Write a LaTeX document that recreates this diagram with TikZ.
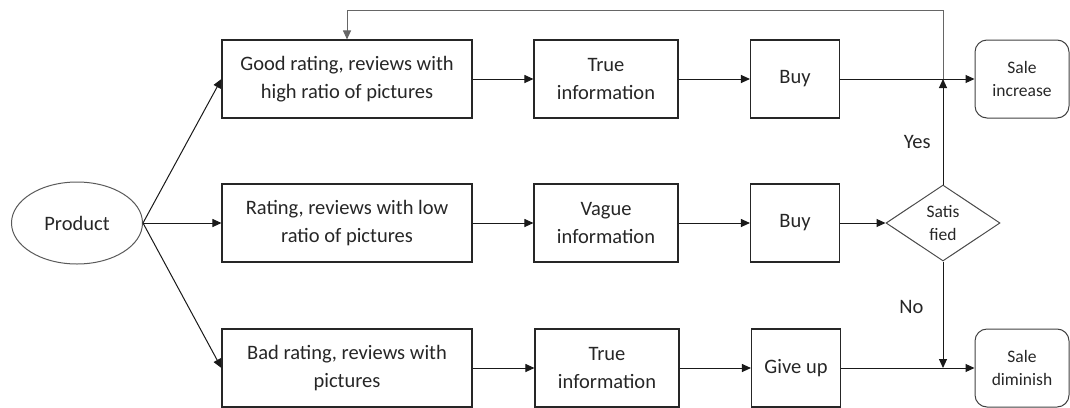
\documentclass[tikz,border=0pt]{standalone}
\usepackage{fontspec}
\setmainfont{Carlito}
\usetikzlibrary{arrows.meta,shapes.geometric}

\begin{document}
\begin{tikzpicture}[x=1pt, y=-1pt, >={Triangle[length=9pt,width=8pt]}, line width=1pt,
    every node/.style={font=\fontsize{20.5}{28}\selectfont, text=black!85, align=center, inner sep=0pt},
    box/.style={draw=black!85, line width=1.1pt, minimum width=250pt, minimum height=78pt},
    info/.style={box, minimum width=144pt},
    act/.style={box, minimum width=89pt},
    ell/.style={draw=black!65, ellipse, minimum width=131pt, minimum height=82pt},
    dec/.style={draw=black!70, diamond, aspect=1.5, minimum width=114pt, minimum height=76pt,
        font=\fontsize{17.5}{23.5}\selectfont},
    sale/.style={draw=black!75, rounded corners=12pt, minimum width=94pt, minimum height=78pt,
        font=\fontsize{17.5}{23.5}\selectfont},
    link/.style={->, draw=black!90},
    fb/.style={->, draw=black!60}]
    \useasboundingbox (0,0) rectangle (1070,407);
    % first column
    \node[ell] (prod) at (77,223) {Product};
    \node[box] (good) at (347,79) {Good rating, reviews with\\high ratio of pictures};
    \node[box] (low) at (347,223) {Rating, reviews with low\\ratio of pictures};
    \node[box] (bad) at (347,368) {Bad rating, reviews with\\pictures};
    % information and decision
    \node[info] (true1) at (606,79) {True\\information};
    \node[info] (vague) at (606,223) {Vague\\information};
    \node[info] (true3) at (607,368) {True\\information};
    \node[act] (buy1) at (795,79) {Buy};
    \node[act] (buy2) at (795,223) {Buy};
    \node[act] (giveup) at (796,368) {Give up};
    \node[dec] (satis) at (943,223) {Satis\\fied};
    \node[sale] (incr) at (1022,79) {Sale\\increase};
    \node[sale] (dimi) at (1022,368) {Sale\\diminish};
    \coordinate (up) at (satis.north |- buy1);
    \coordinate (down) at (satis.south |- giveup);
    \coordinate (loop) at (943,10);
    % connectors
    \draw[link] (prod.east) -- (good.west);
    \draw[link] (prod.east) -- (low.west);
    \draw[link] (prod.east) -- (bad.west);
    \draw[link] (good) -- (true1);
    \draw[link] (low) -- (vague);
    \draw[link] (bad) -- (true3);
    \draw[link] (true1) -- (buy1);
    \draw[link] (vague) -- (buy2);
    \draw[link] (true3) -- (giveup);
    \draw[link] (buy1) -- (incr);
    \draw[link] (buy2) -- (satis);
    \draw[link] (giveup) -- (dimi);
    \draw[link] (satis.north) -- node[pos=0.4, left=12pt] {Yes} (up);
    \draw[link] (satis.south) -- node[pos=0.43, left=19pt] {No} (down);
    \draw[fb] (up) -- (loop) -| (good.north);
\end{tikzpicture}
\end{document}
